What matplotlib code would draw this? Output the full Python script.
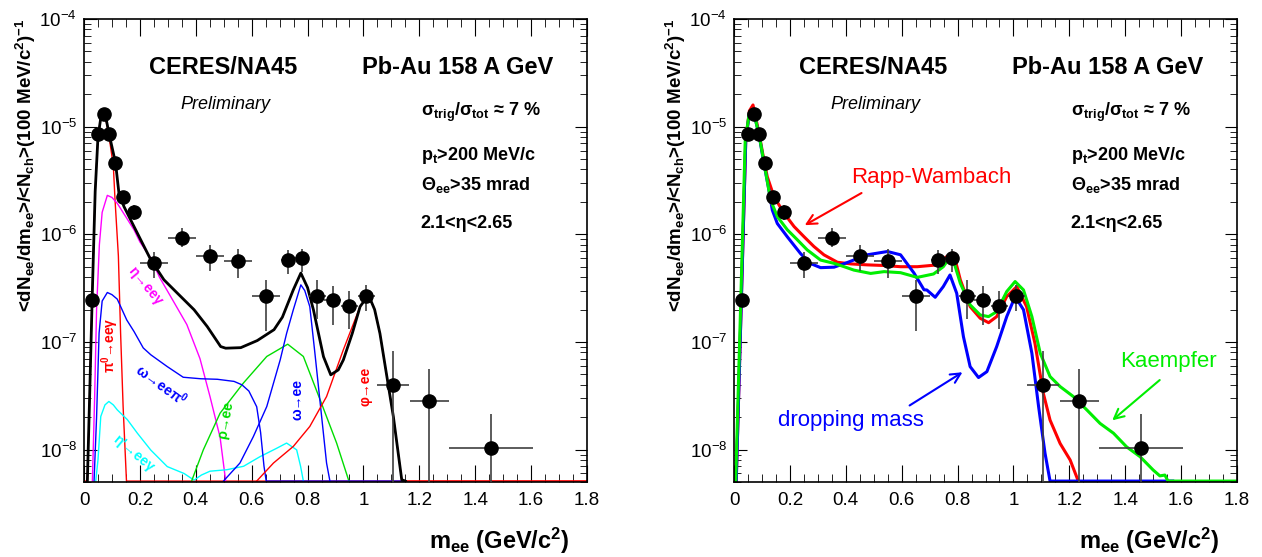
import numpy as np
import matplotlib
matplotlib.use("Agg")
import matplotlib.pyplot as plt
from matplotlib.ticker import LogLocator, NullFormatter, MultipleLocator, FuncFormatter

plt.rcParams["font.family"] = ["Liberation Sans", "DejaVu Sans"]
plt.rcParams["mathtext.default"] = "regular"

YMIN, YMAX = 5e-9, 1e-4

# CERES data points (same in both panels)
m_pts = [0.03, 0.05, 0.07, 0.09, 0.11, 0.14, 0.18, 0.25, 0.35, 0.45, 0.55, 0.65,
         0.73, 0.78, 0.835, 0.89, 0.95, 1.01, 1.105, 1.235, 1.455]
y_pts = [2.45e-7, 8.5e-6, 1.31e-5, 8.5e-6, 4.6e-6, 2.2e-6, 1.62e-6, 5.45e-7, 9.2e-7,
         6.35e-7, 5.65e-7, 2.65e-7, 5.8e-7, 6.0e-7, 2.68e-7, 2.46e-7, 2.15e-7, 2.7e-7,
         3.95e-8, 2.85e-8, 1.03e-8]
y_hi = [2.7e-7, 9.2e-6, 1.4e-5, 9.2e-6, 5.0e-6, 2.45e-6, 1.86e-6, 6.9e-7, 1.14e-6,
        7.9e-7, 7.3e-7, 3.8e-7, 7.2e-7, 7.3e-7, 3.8e-7, 3.3e-7, 3.0e-7, 3.4e-7,
        8.3e-8, 5.6e-8, 2.15e-8]
y_lo = [2.2e-7, 7.8e-6, 1.22e-5, 7.8e-6, 4.2e-6, 1.95e-6, 1.37e-6, 3.9e-7, 7.7e-7,
        4.55e-7, 3.95e-7, 1.27e-7, 4.3e-7, 4.5e-7, 1.62e-7, 1.44e-7, 1.33e-7, 1.95e-7,
        1e-9, 1e-9, 1e-9]
m_half = [0.01, 0.01, 0.01, 0.01, 0.01, 0.015, 0.02, 0.05, 0.05, 0.05, 0.05, 0.05,
          0.025, 0.025, 0.03, 0.03, 0.03, 0.03, 0.058, 0.07, 0.15]

# left panel: hadronic cocktail
total_m = [0.012, 0.02, 0.03, 0.04, 0.05, 0.06, 0.07, 0.08, 0.09, 0.1, 0.113, 0.125,
           0.143, 0.179, 0.239, 0.286, 0.334, 0.394, 0.441, 0.489, 0.507, 0.561, 0.62,
           0.68, 0.71, 0.749, 0.776, 0.8, 0.821, 0.857, 0.883, 0.91, 0.928, 0.96,
           0.988, 1.018, 1.04, 1.059, 1.08, 1.107, 1.137, 1.15]
total_y = [5e-9, 3e-8, 3e-7, 2.5e-6, 8e-6, 1.2e-5, 1.35e-5, 1.15e-5, 8.5e-6, 6.5e-6,
           4.57e-6, 2.41e-6, 1.81e-6, 1.18e-6, 5.8e-7, 3.78e-7, 2.84e-7, 1.99e-7,
           1.39e-7, 9.06e-8, 8.75e-8, 8.85e-8, 1.03e-7, 1.3e-7, 1.7e-7, 3.05e-7,
           4.36e-7, 3.2e-7, 1.99e-7, 7.3e-8, 4.95e-8, 5.5e-8, 6.8e-8, 1.2e-7, 2.13e-7,
           2.73e-7, 2.0e-7, 1.2e-7, 5.5e-8, 2.03e-8, 5.25e-9, 3e-9]

pi0_m = [0.0, 0.012, 0.02, 0.03, 0.04, 0.05, 0.06, 0.068, 0.08, 0.09, 0.105, 0.111,
         0.123, 0.131, 0.14, 0.152, 1.8]
pi0_y = [3e-9, 5e-9, 3e-8, 3e-7, 2.5e-6, 8e-6, 1.2e-5, 1.3e-5, 1.1e-5, 8e-6, 4.3e-6,
         2.1e-6, 6.3e-7, 1.2e-7, 2.5e-8, 5e-9, 3e-9]

eta_m = [0.03, 0.038, 0.045, 0.055, 0.065, 0.0835, 0.1, 0.119, 0.15, 0.179, 0.2,
         0.239, 0.27, 0.308, 0.368, 0.415, 0.451, 0.487, 0.507]
eta_y = [5e-9, 3e-8, 2e-7, 8e-7, 1.6e-6, 2.3e-6, 2.2e-6, 1.94e-6, 1.45e-6, 1.1e-6,
         8.5e-7, 6.0e-7, 4.0e-7, 2.7e-7, 1.45e-7, 7e-8, 3.1e-8, 1.3e-8, 5e-9]

omd_m = [0.036, 0.045, 0.054, 0.065, 0.0835, 0.1, 0.119, 0.153, 0.179, 0.212, 0.239,
         0.298, 0.355, 0.418, 0.477, 0.537, 0.565, 0.59, 0.618, 0.632, 0.644, 0.652, 1.15]
omd_y = [5e-9, 2e-8, 1.21e-7, 2.4e-7, 2.88e-7, 2.75e-7, 2.5e-7, 1.6e-7, 1.25e-7,
         8.8e-8, 7.6e-8, 5.9e-8, 4.7e-8, 4.55e-8, 4.5e-8, 4.3e-8, 4.0e-8, 3.5e-8,
         2.5e-8, 1.44e-8, 7.05e-9, 4e-9, 3e-9]

etap_m = [0.042, 0.05, 0.06, 0.075, 0.089, 0.105, 0.119, 0.155, 0.191, 0.239, 0.298,
          0.358, 0.394, 0.42, 0.451, 0.511, 0.571, 0.63, 0.69, 0.725, 0.761, 0.775, 0.785]
etap_y = [5e-9, 8e-9, 2.03e-8, 2.6e-8, 2.8e-8, 2.6e-8, 2.34e-8, 1.9e-8, 1.42e-8,
          9.9e-9, 6.95e-9, 6.0e-9, 5.2e-9, 5.8e-9, 6.3e-9, 6.5e-9, 7e-9, 8.6e-9,
          1.03e-8, 1.15e-8, 9.95e-9, 7e-9, 4e-9]

rho_m = [0.385, 0.427, 0.487, 0.57, 0.654, 0.729, 0.785, 0.845, 0.904, 0.948]
rho_y = [5e-9, 9.95e-9, 2.18e-8, 4.14e-8, 7.33e-8, 9.53e-8, 7.33e-8, 2.9e-8, 1.15e-8, 5e-9]

om_m = [0.499, 0.558, 0.606, 0.654, 0.702, 0.725, 0.749, 0.776, 0.79, 0.808, 0.826,
        0.844, 0.868, 0.88]
om_y = [5e-9, 7.5e-9, 1.32e-8, 2.51e-8, 6.8e-8, 1.2e-7, 1.99e-7, 3.39e-7, 3.0e-7,
        2.13e-7, 8e-8, 2.9e-8, 7.5e-9, 4e-9]

phi_m = [0.618, 0.678, 0.749, 0.808, 0.868, 0.928, 0.988, 1.018, 1.04, 1.059, 1.08,
         1.107, 1.137, 1.15, 1.8]
phi_y = [5e-9, 7.5e-9, 1.07e-8, 1.64e-8, 3.11e-8, 8.45e-8, 2.13e-7, 2.73e-7, 2.0e-7,
         1.2e-7, 5.5e-8, 2.03e-8, 5.25e-9, 3e-9, 3e-9]

# right panel: model calculations
rw_m = [0.008, 0.026, 0.042, 0.055, 0.068, 0.0895, 0.107, 0.119, 0.143, 0.179, 0.215,
        0.2505, 0.286, 0.322, 0.37, 0.4175, 0.477, 0.537, 0.596, 0.656, 0.725, 0.761,
        0.7855, 0.81, 0.845, 0.881, 0.911, 0.94, 0.976, 1.012, 1.047, 1.077, 1.107,
        1.131, 1.167, 1.203, 1.232]
rw_y = [5e-9, 2.3e-7, 7.5e-6, 1.4e-5, 1.59e-5, 8.7e-6, 4.9e-6, 3.43e-6, 2.24e-6,
        1.57e-6, 1.18e-6, 9.5e-7, 7.7e-7, 6.44e-7, 5.5e-7, 5.31e-7, 5.2e-7, 5.13e-7,
        5.0e-7, 5.0e-7, 5.19e-7, 6.2e-7, 6.67e-7, 3.77e-7, 2.13e-7, 1.66e-7, 1.51e-7,
        1.72e-7, 2.64e-7, 3.27e-7, 2.13e-7, 9.7e-8, 3.33e-8, 1.88e-8, 1.14e-8, 8.0e-9,
        4e-9]

dm_m = [0.008, 0.026, 0.042, 0.055, 0.068, 0.09, 0.107, 0.125, 0.137, 0.155, 0.191,
        0.2386, 0.274, 0.31, 0.358, 0.4056, 0.477, 0.549, 0.596, 0.644, 0.68, 0.69,
        0.72, 0.749, 0.773, 0.797, 0.821, 0.845, 0.875, 0.905, 0.94, 0.976, 1.006,
        1.036, 1.066, 1.09, 1.113, 1.131, 1.57]
dm_y = [5e-9, 2.3e-7, 7.3e-6, 1.35e-5, 1.45e-5, 8.3e-6, 4.56e-6, 2.58e-6, 1.68e-6,
        1.26e-6, 9.46e-7, 6.6e-7, 5.35e-7, 4.9e-7, 4.95e-7, 5.47e-7, 6.45e-7, 6.92e-7,
        6.45e-7, 4.37e-7, 3.05e-7, 3.04e-7, 2.6e-7, 3.27e-7, 4.19e-7, 2.83e-7,
        1.12e-7, 5.9e-8, 4.67e-8, 5.3e-8, 9.05e-8, 1.72e-7, 2.64e-7, 1.99e-7, 7.85e-8,
        2.51e-8, 9.25e-9, 4e-9, 4e-9]

ka_m = [0.006, 0.024, 0.04, 0.055, 0.068, 0.09, 0.107, 0.131, 0.155, 0.191, 0.227,
        0.262, 0.31, 0.358, 0.394, 0.429, 0.489, 0.537, 0.596, 0.656, 0.714, 0.749,
        0.779, 0.81, 0.845, 0.881, 0.911, 0.94, 0.976, 1.006, 1.036, 1.066, 1.096,
        1.131, 1.167, 1.215, 1.263, 1.31, 1.358, 1.405, 1.453, 1.5, 1.524, 1.542,
        1.553, 1.8]
ka_y = [5e-9, 2.3e-7, 7.3e-6, 1.35e-5, 1.45e-5, 8.3e-6, 4.7e-6, 2.08e-6, 1.46e-6,
        1.1e-6, 8.87e-7, 7.16e-7, 5.76e-7, 5.37e-7, 5.0e-7, 4.65e-7, 4.33e-7, 4.5e-7,
        4.4e-7, 3.98e-7, 4.28e-7, 5.0e-7, 6.43e-7, 3.5e-7, 2.21e-7, 1.78e-7, 1.72e-7,
        1.91e-7, 2.94e-7, 3.64e-7, 3.04e-7, 1.72e-7, 7.85e-8, 4.77e-8, 3.85e-8,
        3.1e-8, 2.33e-8, 1.75e-8, 1.42e-8, 1.06e-8, 8.6e-9, 6.46e-9, 5.7e-9, 5.8e-9,
        4e-9, 4e-9]


def clip(y):
    # ROOT draws empty bins along the frame bottom
    return np.clip(np.array(y), YMIN * 1.02, None)


def setup(ax):
    ax.set_yscale("log")
    ax.set_xlim(0, 1.8)
    ax.set_ylim(YMIN, YMAX)
    ax.xaxis.set_major_locator(MultipleLocator(0.2))
    ax.xaxis.set_minor_locator(MultipleLocator(0.05))
    ax.xaxis.set_major_formatter(FuncFormatter(lambda v, p: f"{v:g}"))
    ax.yaxis.set_major_locator(LogLocator(base=10, numticks=10))
    ax.yaxis.set_minor_locator(LogLocator(base=10, subs=np.arange(2, 10), numticks=20))
    ax.yaxis.set_minor_formatter(NullFormatter())
    ax.tick_params(which="both", direction="in", top=True, right=True, labelsize=13.5)
    ax.tick_params(axis="x", which="major", length=12, pad=7)
    ax.tick_params(axis="x", which="minor", length=6)
    ax.tick_params(axis="y", which="major", length=9, pad=5)
    ax.tick_params(axis="y", which="minor", length=5)
    for s in ax.spines.values():
        s.set_linewidth(1.2)
    ax.set_ylabel("<dN$_{ee}$/dm$_{ee}$>/<N$_{ch}$>(100 MeV/c$^{2}$)$^{-1}$",
                  fontsize=13.5, fontweight="bold", loc="top")
    ax.yaxis.set_label_coords(-0.092, 1.002)
    ax.set_xlabel("m$_{ee}$ (GeV/c$^{2}$)", fontsize=17, fontweight="bold", loc="right")
    ax.xaxis.set_label_coords(0.966, -0.094)

    ax.text(0.277, 0.881, "CERES/NA45", transform=ax.transAxes, ha="center",
            va="baseline", fontsize=17, fontweight="bold")
    ax.text(0.742, 0.881, "Pb-Au 158 A GeV", transform=ax.transAxes, ha="center",
            va="baseline", fontsize=17, fontweight="bold")
    ax.text(0.282, 0.806, "Preliminary", transform=ax.transAxes, ha="center",
            va="baseline", fontsize=13, style="italic")
    ax.text(0.669, 0.79, "σ$_{trig}$/σ$_{tot}$ ≈ 7 %", transform=ax.transAxes,
            va="baseline", fontsize=13, fontweight="bold")
    ax.text(0.669, 0.695, "p$_{t}$>200 MeV/c", transform=ax.transAxes,
            va="baseline", fontsize=13, fontweight="bold")
    ax.text(0.669, 0.631, "Θ$_{ee}$>35 mrad", transform=ax.transAxes,
            va="baseline", fontsize=13, fontweight="bold")
    ax.text(0.669, 0.548, "2.1<η<2.65", transform=ax.transAxes,
            va="baseline", fontsize=13, fontweight="bold")

    ax.errorbar(m_pts, y_pts, xerr=m_half,
                yerr=[np.array(y_pts) - np.array(y_lo), np.array(y_hi) - np.array(y_pts)],
                fmt="o", color="black", ms=9.5, ecolor="0.25", elinewidth=1.2,
                capsize=0, zorder=10)


fig = plt.figure(figsize=(12.62, 5.57), dpi=100)
ax1 = fig.add_axes([84 / 1262, 75 / 557, 503 / 1262, 463 / 557])
ax2 = fig.add_axes([734 / 1262, 75 / 557, 503 / 1262, 463 / 557])

# ---- left: cocktail
ax1.plot(pi0_m, clip(pi0_y), color="red", lw=1.0)
ax1.plot(eta_m, clip(eta_y), color="magenta", lw=1.0)
ax1.plot(etap_m, clip(etap_y), color="cyan", lw=1.0)
ax1.plot(rho_m, clip(rho_y), color="#00dd00", lw=1.0)
ax1.plot(om_m, clip(om_y), color="blue", lw=1.0)
ax1.plot(omd_m, clip(omd_y), color="blue", lw=1.0)
ax1.plot(phi_m, clip(phi_y), color="red", lw=1.0)
ax1.plot(total_m, clip(total_y), color="black", lw=2.0)

lab = dict(fontsize=10, fontweight="bold", ha="center", va="center")
ax1.text(0.093, 9.4e-8, "π$^0$→eeγ", color="red", rotation=90, **lab)
ax1.text(0.218, 3.3e-7, "η→eeγ", color="magenta", rotation=-50, **lab)
ax1.text(0.278, 4.0e-8, "ω→eeπ$^0$", color="blue", rotation=-36, **lab)
ax1.text(0.177, 9.3e-9, "η'→eeγ", color="cyan", rotation=-40, **lab)
ax1.text(0.508, 1.9e-8, "ρ→ee", color="#00dd00", rotation=80, **lab)
ax1.text(0.764, 2.9e-8, "ω→ee", color="blue", rotation=90, **lab)
ax1.text(1.009, 3.9e-8, "φ→ee", color="red", rotation=90, **lab)

setup(ax1)

# ---- right: models
ax2.plot(rw_m, clip(rw_y), color="red", lw=2.2)
ax2.plot(dm_m, clip(dm_y), color="blue", lw=2.2)
ax2.plot(ka_m, clip(ka_y), color="#00ee00", lw=2.2)

arr = "->,head_length=0.7,head_width=0.35"
ax2.text(0.707, 3.4e-6, "Rapp-Wambach", color="red", fontsize=16, ha="center", va="center")
ax2.annotate("", xy=(0.2445, 1.18e-6), xytext=(0.465, 2.49e-6),
             arrowprops=dict(arrowstyle=arr, color="red", lw=1.5))
ax2.text(0.418, 1.85e-8, "dropping mass", color="blue", fontsize=16, ha="center", va="center")
ax2.annotate("", xy=(0.826, 5.4e-8), xytext=(0.62, 2.49e-8),
             arrowprops=dict(arrowstyle=arr, color="blue", lw=1.5))
ax2.text(1.555, 6.6e-8, "Kaempfer", color="#00ee00", fontsize=16, ha="center", va="center")
ax2.annotate("", xy=(1.346, 1.8e-8), xytext=(1.531, 4.6e-8),
             arrowprops=dict(arrowstyle=arr, color="#00ee00", lw=1.5))

setup(ax2)

fig.savefig("out.png", dpi=100)
